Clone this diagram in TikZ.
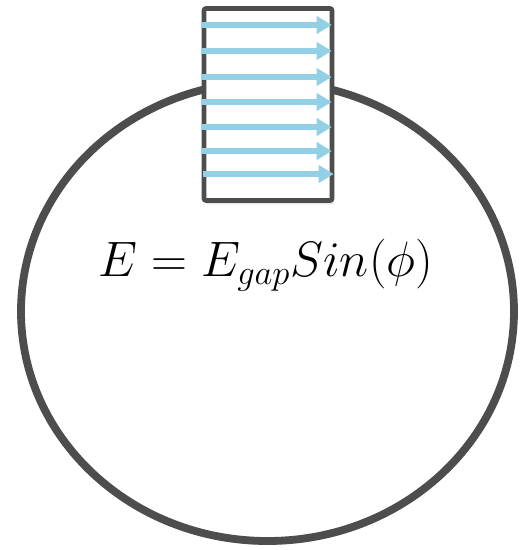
\documentclass[tikz,border=0pt]{standalone}
\usepackage{tikz}
\usetikzlibrary{arrows.meta, shapes.geometric, shadows}
\definecolor{rim}{HTML}{4D4D4D}
\definecolor{field}{HTML}{93D0E6}
\tikzset{
  cavity/.style  ={ellipse, draw=rim, fill=white, line width=3.9pt, inner sep=0pt,
                   minimum width=246.5pt, minimum height=229.6pt,
                   drop shadow={shadow xshift=0pt, shadow yshift=-2pt, opacity=0.15}},
  gapbox/.style  ={draw=rim, fill=white, line width=2.3pt, rounded corners=1pt, inner sep=0pt,
                   minimum width=64pt, minimum height=96pt,
                   drop shadow={shadow xshift=1pt, shadow yshift=-2pt, opacity=0.2}},
  efield/.style  ={draw=field, line width=2.6pt, -{Triangle[length=7.5pt, width=8.5pt]}},
  eqn/.style     ={font=\fontsize{25.8}{30}\selectfont, inner sep=0pt},
}
\begin{document}
\begin{tikzpicture}[x=0.5pt, y=-0.5pt]
  \useasboundingbox (0,0) rectangle (519,550);
  \node[cavity] (cav) at (267.5,311.4) {};
  \node[gapbox] (gap) at (268,104.5) {};
  % field lines across the gap
  \foreach \yy/\xs in {25/0, 51/0, 77/0, 102/0, 127/0, 151/0, 174/2}
    \draw[efield] (gap.west |- 0,\yy) ++(\xs-1,0) -- ++(131,0);
  \node[eqn] (eq) at (266,265) {$E = E_{gap}Sin(\phi)$};
\end{tikzpicture}
\end{document}
